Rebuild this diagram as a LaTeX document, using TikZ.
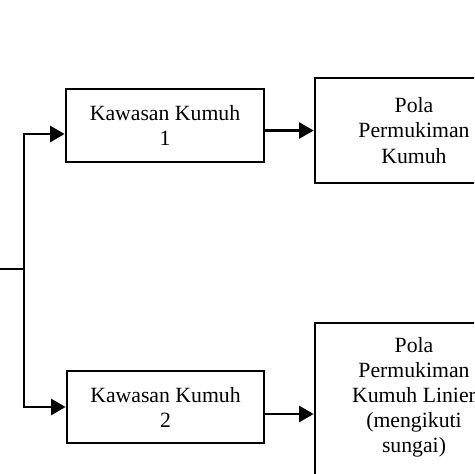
\documentclass[tikz,border=0pt]{standalone}
\usepackage{fontspec}
\setmainfont{Liberation Serif}
\usetikzlibrary{arrows.meta}
\begin{document}
\begin{tikzpicture}[x=0.75pt,y=-0.75pt,
  box/.style={draw, line width=2pt, rectangle, inner sep=0pt, align=center,
    font=\fontsize{16.3}{18.8}\selectfont},
  lbl/.style={inner sep=0pt, align=center, font=\fontsize{16.3}{18.8}\selectfont},
  conn/.style={line width=2.2pt},
  arr/.style={line width=2.2pt, -{Triangle[length=11pt,width=12pt]}}]
\useasboundingbox (0,0) rectangle (474,474);
\clip (0,0) rectangle (474,474);
\node[box, minimum width=198*0.75pt, minimum height=73*0.75pt] (K1) at (165,125.5) {Kawasan Kumuh\\1};
\node[box, minimum width=198*0.75pt, minimum height=105*0.75pt] (P1) at (414,130.5) {Pola\\Permukiman\\Kumuh};
\node[box, minimum width=197*0.75pt, minimum height=72*0.75pt] (K2) at (165.5,407) {Kawasan Kumuh\\2};
\node[box, minimum width=198*0.75pt, minimum height=182*0.75pt] (P2) at (414,414) {};
\node[lbl] (P2t) at (414,397) {Pola\\Permukiman\\Kumuh Linier\\(mengikuti\\sungai)};
\coordinate (S) at (0,269);
\coordinate (J) at (24,269);
\draw[conn] (S) -- (J);
\draw[arr] (J) |- (K1.west |- 0,134);
\draw[arr] (J) |- (K2.west);
\draw[arr] (K1.east |- P1.west) -- (P1.west);
\draw[arr] (K2.east |- P2.west) -- (P2.west);
\end{tikzpicture}
\end{document}
